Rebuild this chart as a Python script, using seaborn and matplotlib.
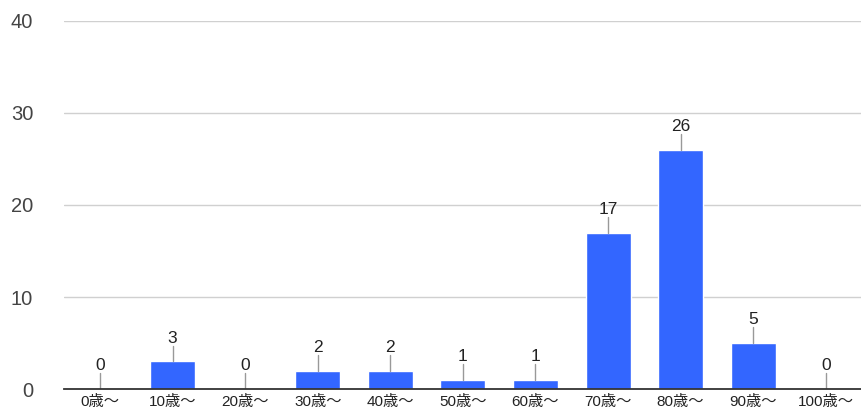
import matplotlib
matplotlib.use("Agg")
import matplotlib.pyplot as plt
import seaborn as sns
import pandas as pd

# Respondents by age group
age_groups = ["0歳～", "10歳～", "20歳～", "30歳～", "40歳～", "50歳～",
              "60歳～", "70歳～", "80歳～", "90歳～", "100歳～"]
counts = [0, 3, 0, 2, 2, 1, 1, 17, 26, 5, 0]
y_ticks = [0, 10, 20, 30, 40]

df = pd.DataFrame({"age": age_groups, "count": counts})

sns.set_theme(style="white")
plt.rcParams["font.family"] = ["Liberation Sans", "Noto Sans CJK JP", "DejaVu Sans"]

fig = plt.figure(figsize=(8.62, 4.17), dpi=100)
ax = fig.add_axes([0.074, 0.067, 0.926, 0.883])

sns.barplot(data=df, x="age", y="count", color="#3366ff", saturation=1,
            width=0.62, ax=ax, zorder=3)

ax.set_ylim(0, 40)
ax.set_xlim(-0.5, len(age_groups) - 0.5)
ax.set_yticks(y_ticks)
ax.set_yticklabels([str(t) for t in y_ticks], fontsize=14.5, color="#444444")
ax.tick_params(axis="y", length=0, pad=22)
ax.tick_params(axis="x", length=0, pad=4, labelsize=11, labelcolor="#222222")
ax.set_xlabel("")
ax.set_ylabel("")

for s in ["top", "right", "left"]:
    ax.spines[s].set_visible(False)
ax.spines["bottom"].set_color("#333333")
ax.spines["bottom"].set_linewidth(1.3)
ax.spines["bottom"].set_zorder(5)

for t in y_ticks[1:]:
    ax.axhline(t, color="#d0d0d0", lw=1, zorder=1)

# Value labels with short leader lines
lead = 1.7
for i, v in enumerate(counts):
    ax.plot([i, i], [v, v + lead], color="#999999", lw=1, zorder=4)
    ax.text(i, v + lead, str(v), ha="center", va="bottom", fontsize=12.5,
            color="#222222", zorder=4)

fig.savefig("out.png", dpi=100)
